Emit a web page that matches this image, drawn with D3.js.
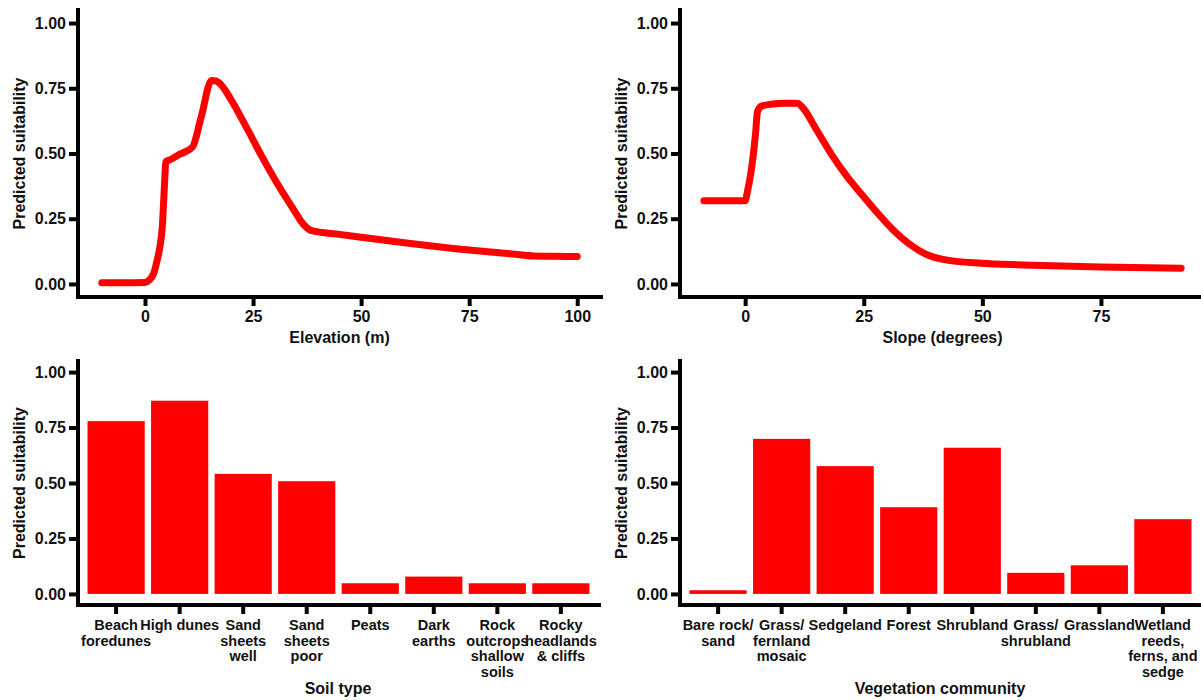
<!DOCTYPE html>
<html>
<head>
<meta charset="utf-8">
<script src="https://cdn.jsdelivr.net/npm/d3@7"></script>
<style>
  html, body { margin: 0; padding: 0; background: #fff; }
  svg { display: block; }
  text { font-family: "Liberation Sans", Arial, Helvetica, sans-serif; font-weight: bold; fill: #111; }
</style>
</head>
<body>
<svg id="chart" width="1201" height="700"></svg>
<script>
// Response curve: elevation (m) vs predicted suitability
const elevationX = [-10, -5, 0, 1, 2, 2.8, 3.45, 4, 4.33, 4.6, 4.8, 5.9, 8, 11, 13, 15.4, 16.4, 17.2, 20, 23.6, 27.1, 30.6, 34.2, 36.8, 38.6, 45, 50, 60, 75, 85, 90, 95, 100];
const elevationY = [0.005, 0.005, 0.006, 0.015, 0.04, 0.09, 0.143, 0.219, 0.321, 0.41, 0.468, 0.477, 0.497, 0.525, 0.64, 0.78, 0.778, 0.77, 0.704, 0.596, 0.487, 0.385, 0.29, 0.226, 0.204, 0.19, 0.179, 0.158, 0.13, 0.115, 0.107, 0.106, 0.105];

// Response curve: slope (degrees) vs predicted suitability
const slopeX = [-8.7, -4, 0, 0.4, 1.4, 2.2, 2.6, 3.4, 5.4, 8.6, 11, 12.3, 15.1, 18.3, 21.5, 25, 28, 31.2, 34.4, 38.5, 41.7, 49.8, 58.6, 74.8, 91.9];
const slopeY = [0.319, 0.319, 0.319, 0.347, 0.449, 0.577, 0.66, 0.681, 0.689, 0.693, 0.693, 0.672, 0.589, 0.494, 0.411, 0.334, 0.27, 0.207, 0.156, 0.111, 0.094, 0.079, 0.073, 0.065, 0.06];

// Soil type categories
const soilTypes = ["Beach\nforedunes", "High dunes", "Sand\nsheets\nwell", "Sand\nsheets\npoor", "Peats", "Dark\nearths", "Rock\noutcrops\nshallow\nsoils", "Rocky\nheadlands\n& cliffs"];
const soilValues = [0.779, 0.871, 0.541, 0.508, 0.048, 0.078, 0.048, 0.048];

// Vegetation community categories
const vegTypes = ["Bare rock/\nsand", "Grass/\nfernland\nmosaic", "Sedgeland", "Forest", "Shrubland", "Grass/\nshrubland", "Grassland", "Wetland\nreeds,\nferns, and\nsedge"];
const vegValues = [0.0165, 0.699, 0.576, 0.391, 0.659, 0.095, 0.129, 0.337];

const yTicks = [0, 0.25, 0.5, 0.75, 1];
const yLabel = "Predicted suitability";

const svg = d3.select("#chart");
const RED = "#ff0000";
const AXIS_W = 4;

// heavy black axis lines and ticks
function styleAxis(g) {
  g.select(".domain").remove();
  g.selectAll(".tick line")
    .attr("stroke", "#000").attr("stroke-width", AXIS_W);
}

function axisLine(panel, x1, y1, x2, y2) {
  panel.append("line")
    .attr("x1", x1).attr("y1", y1).attr("x2", x2).attr("y2", y2)
    .attr("stroke", "#000").attr("stroke-width", AXIS_W).attr("stroke-linecap", "square");
}

function yAxis(panel, y, x0) {
  const g = panel.append("g").attr("transform", `translate(${x0},0)`)
    .call(d3.axisLeft(y).tickValues(yTicks).tickFormat(d3.format(".2f"))
      .tickSizeOuter(0).tickSize(9).tickPadding(3));
  styleAxis(g);
  g.selectAll(".tick text").attr("font-size", 16).attr("fill", "#111");
  const [b, t] = y.range();
  axisLine(panel, x0, t, x0, b);
  return g;
}

function yTitle(panel, x, y0, y1) {
  panel.append("text")
    .attr("transform", `translate(${x},${(y0 + y1) / 2}) rotate(-90)`)
    .attr("text-anchor", "middle").attr("dominant-baseline", "central")
    .attr("font-size", 16).text(yLabel);
}

function xTitle(panel, cx, cy, label) {
  panel.append("text").attr("x", cx).attr("y", cy)
    .attr("text-anchor", "middle").attr("dominant-baseline", "central")
    .attr("font-size", 16).text(label);
}

// continuous scale padded 5% on each side
function expanded(vals) {
  const [a, b] = d3.extent(vals);
  const pad = (b - a) * 0.05;
  return [a - pad, b + pad];
}

function linePanel(xs, ys, opts) {
  const { left, right, top, bottom, xTicks, xLabel, titleLeft } = opts;
  const panel = svg.append("g");
  const x = d3.scaleLinear().domain(expanded(xs)).range([left, right]);
  const y = d3.scaleLinear().domain([-0.05, 1.05]).range([bottom, top]);

  const pts = xs.map((v, i) => [v, ys[i]]);
  panel.append("path")
    .datum(pts)
    .attr("fill", "none")
    .attr("stroke", RED)
    .attr("stroke-width", 7)
    .attr("stroke-linecap", "round")
    .attr("stroke-linejoin", "round")
    .attr("d", d3.line().x(d => x(d[0])).y(d => y(d[1])).curve(d3.curveMonotoneX));

  yAxis(panel, y, left);
  const gx = panel.append("g").attr("transform", `translate(0,${bottom})`)
    .call(d3.axisBottom(x).tickValues(xTicks).tickFormat(d3.format("d"))
      .tickSizeOuter(0).tickSize(9).tickPadding(5));
  styleAxis(gx);
  gx.selectAll(".tick text").attr("font-size", 16).attr("fill", "#111");
  axisLine(panel, left, bottom, right, bottom);

  yTitle(panel, titleLeft, top, bottom);
  xTitle(panel, (left + right) / 2, bottom + 40, xLabel);
}

function barPanel(cats, vals, opts) {
  const { left, right, top, bottom, xLabel, titleX, titleLeft } = opts;
  const panel = svg.append("g");
  const x = d3.scaleBand().domain(cats).range([left, right]).paddingInner(0.1).paddingOuter(0.15);
  const y = d3.scaleLinear().domain([-0.05, 1.05]).range([bottom, top]);

  panel.selectAll("rect.bar")
    .data(cats.map((c, i) => ({ c, v: vals[i] })))
    .join("rect")
    .attr("class", "bar")
    .attr("x", d => x(d.c))
    .attr("width", x.bandwidth())
    .attr("y", d => y(d.v))
    .attr("height", d => y(0) - y(d.v))
    .attr("fill", RED);

  yAxis(panel, y, left);
  const gx = panel.append("g").attr("transform", `translate(0,${bottom})`)
    .call(d3.axisBottom(x).tickSizeOuter(0).tickSize(9).tickFormat(() => ""));
  styleAxis(gx);
  axisLine(panel, left, bottom, right, bottom);

  // multi-line category labels
  gx.selectAll(".tick").each(function (d) {
    const t = d3.select(this).append("text")
      .attr("text-anchor", "middle").attr("font-size", 14.5).attr("fill", "#111")
      .attr("y", 25);
    d.split("\n").forEach((line, i) => {
      t.append("tspan").attr("x", 0).attr("dy", i === 0 ? 0 : 15.5).text(line);
    });
  });

  yTitle(panel, titleLeft, top, bottom);
  xTitle(panel, titleX, 688, xLabel);
}

linePanel(elevationX, elevationY, {
  left: 78, right: 601, top: 10, bottom: 297, titleLeft: 19,
  xTicks: [0, 25, 50, 75, 100], xLabel: "Elevation (m)"
});

linePanel(slopeX, slopeY, {
  left: 680, right: 1205, top: 10, bottom: 297, titleLeft: 621,
  xTicks: [0, 25, 50, 75], xLabel: "Slope (degrees)"
});

barPanel(soilTypes, soilValues, {
  left: 78, right: 599, top: 361, bottom: 605, titleLeft: 19,
  xLabel: "Soil type", titleX: 338
});
barPanel(vegTypes, vegValues, {
  left: 680, right: 1201, top: 361, bottom: 605, titleLeft: 621,
  xLabel: "Vegetation community", titleX: 940
});
</script>
</body>
</html>
